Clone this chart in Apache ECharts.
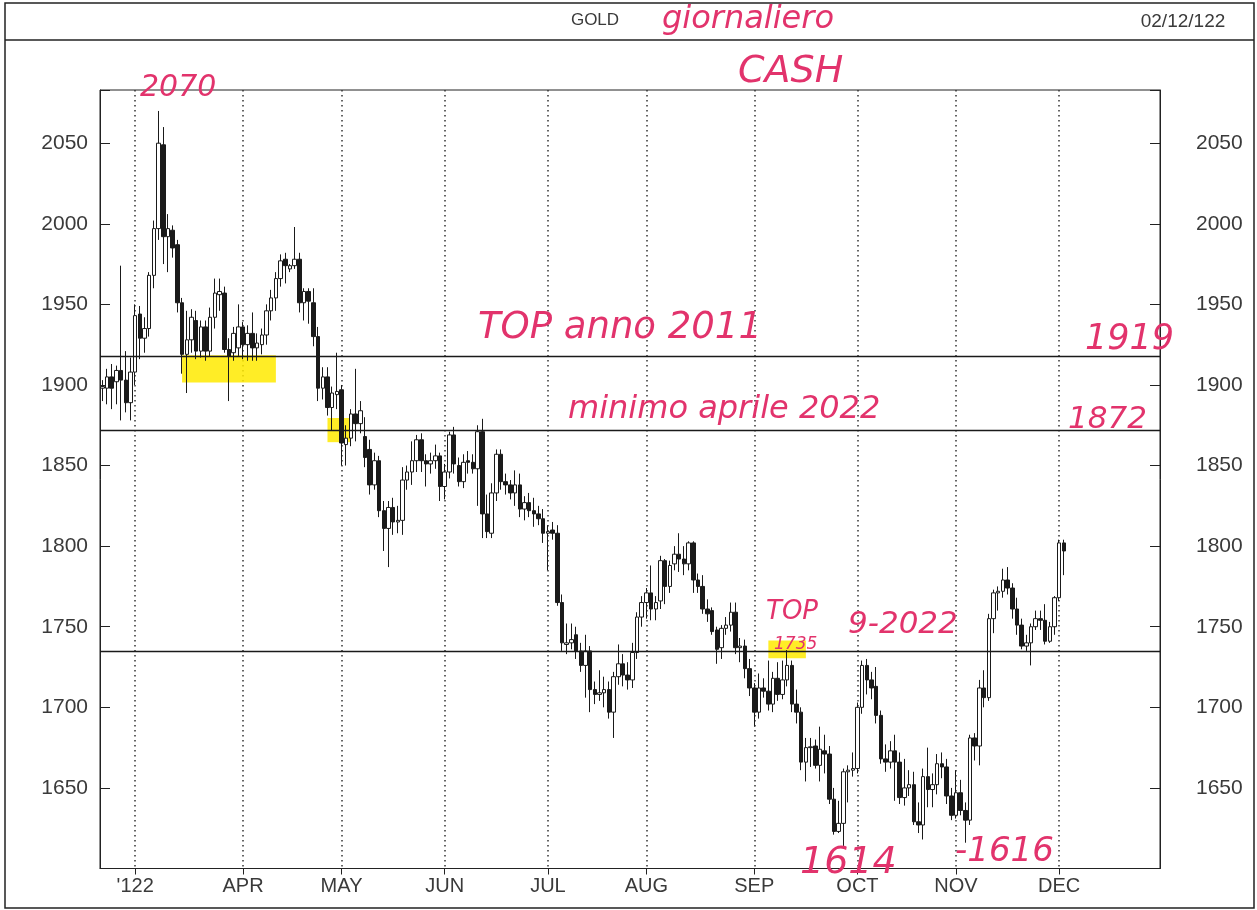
<!DOCTYPE html>
<html><head><meta charset="utf-8">
<script src="https://cdn.jsdelivr.net/npm/echarts@6/dist/echarts.min.js"></script>
<style>html,body{margin:0;padding:0;background:#fff}#c{width:1257px;height:910px}</style>
</head><body><div id="c"></div>
<script>
// OHLC candles, ECharts order: [open, close, low, high]
const feb = [[1898,1899,1890,1903],[1898,1905,1888,1910],[1905,1898,1885,1913],[1902,1909,1888,1912],[1909,1903,1878,1974],[1903,1889,1883,1921],[1889,1908,1878,1917]];
const mar = [[1908,1943,1900,1950],[1944,1929,1916,1949],[1929,1935,1920,1942],[1935,1968,1930,1970],[1968,1997,1960,2002],[1997,2050,1990,2070],[2049,1992,1975,2060],[1992,1997,1970,2006],[1996,1985,1979,1999],[1987,1951,1945,1990],[1951,1919,1907,1954],[1919,1928,1895,1946],[1928,1942,1920,1947],[1940,1921,1916,1946],[1921,1936,1917,1940],[1936,1921,1915,1940],[1921,1942,1918,1948],[1942,1957,1935,1966],[1956,1958,1946,1966],[1957,1922,1920,1961],[1922,1918,1890,1929],[1920,1932,1915,1936],[1923,1936,1918,1950]];
const apr = [[1936,1925,1916,1939],[1925,1932,1915,1937],[1932,1923,1915,1945],[1923,1926,1915,1932],[1925,1931,1919,1935],[1931,1946,1925,1950],[1946,1954,1940,1959],[1954,1966,1946,1970],[1966,1977,1961,1981],[1978,1974,1963,1982],[1972,1974,1970,1975],[1974,1978,1972,1998],[1978,1951,1945,1982],[1951,1958,1940,1960],[1958,1952,1938,1960],[1951,1930,1924,1960],[1930,1898,1890,1936],[1898,1905,1891,1911],[1905,1886,1881,1911],[1886,1895,1872,1899],[1894,1896,1885,1920]];
const may = [[1897,1864,1850,1900],[1863,1867,1850,1875],[1867,1882,1862,1885],[1882,1876,1865,1910],[1876,1884,1870,1890],[1868,1855,1849,1880],[1860,1838,1832,1866],[1838,1853,1835,1858],[1853,1822,1818,1856],[1822,1811,1797,1828],[1811,1824,1787,1828],[1824,1815,1807,1830],[1815,1816,1808,1825],[1816,1841,1807,1849],[1841,1846,1835,1850],[1846,1853,1838,1865],[1853,1866,1846,1869],[1866,1853,1846,1870],[1853,1851,1837,1857],[1851,1853,1845,1858],[1853,1856,1848,1863],[1856,1837,1828,1858]];
const jun = [[1837,1846,1829,1851],[1846,1869,1842,1871],[1869,1851,1845,1874],[1850,1840,1837,1855],[1840,1852,1836,1857],[1853,1852,1845,1859],[1852,1848,1845,1857],[1848,1871,1825,1875],[1871,1820,1805,1879],[1820,1809,1805,1832],[1808,1833,1805,1839],[1833,1857,1828,1860],[1857,1840,1835,1860],[1840,1838,1832,1845],[1838,1833,1829,1841],[1833,1838,1825,1847],[1838,1823,1818,1845],[1823,1827,1816,1831],[1827,1822,1818,1833],[1822,1820,1812,1830],[1820,1817,1813,1825],[1817,1808,1802,1823]];
const jul = [[1808,1809,1785,1813],[1810,1808,1804,1815],[1808,1765,1763,1813],[1765,1740,1735,1770],[1739,1740,1733,1752],[1740,1742,1736,1752],[1745,1735,1730,1750],[1735,1726,1722,1740],[1726,1735,1706,1745],[1735,1711,1697,1738],[1711,1708,1702,1716],[1708,1709,1704,1723],[1709,1711,1700,1719],[1711,1697,1693,1716],[1697,1719,1681,1722],[1719,1727,1714,1739],[1727,1720,1713,1733],[1720,1717,1711,1728],[1717,1734,1712,1740],[1734,1756,1730,1759],[1756,1765,1750,1769]];
const aug = [[1765,1771,1755,1774],[1771,1761,1754,1788],[1761,1765,1754,1769],[1766,1791,1761,1794],[1791,1775,1764,1792],[1775,1788,1771,1791],[1789,1795,1785,1800],[1795,1792,1784,1808],[1792,1789,1782,1800],[1789,1802,1785,1803],[1802,1779,1771,1803],[1779,1775,1771,1783],[1775,1761,1758,1782],[1761,1758,1753,1767],[1760,1747,1745,1762],[1748,1736,1727,1750],[1737,1749,1730,1751],[1749,1751,1745,1756],[1751,1759,1747,1765],[1759,1737,1733,1765],[1737,1738,1728,1743],[1738,1724,1718,1742],[1724,1712,1707,1730]];
const sep = [[1712,1697,1688,1715],[1697,1712,1693,1721],[1712,1710,1706,1718],[1710,1702,1698,1729],[1702,1718,1697,1722],[1718,1708,1704,1728],[1708,1717,1705,1729],[1717,1726,1713,1735.5],[1726,1702,1697,1729],[1702,1697,1690,1711],[1697,1666,1661,1700],[1666,1675,1654,1681],[1675,1675.5,1663,1681],[1676,1664,1662,1680],[1664,1674,1654,1688],[1673,1671,1659,1683],[1671,1643,1640,1676],[1643,1623,1621,1650],[1623,1628,1622,1642],[1628,1660,1614,1662],[1660,1661,1641,1664],[1661,1662,1657,1672]];
const oct = [[1662,1700,1659,1703],[1700,1726,1696,1729],[1726,1717,1708,1730],[1717,1712,1705,1722],[1713,1695,1690,1725],[1695,1668,1665,1698],[1668,1666,1660,1677],[1666,1673,1662,1679],[1673,1666,1642,1683],[1666,1644,1640,1672],[1644,1650,1639,1668],[1650,1652,1645,1661],[1652,1629,1627,1660],[1629,1627,1622,1641],[1627,1657,1618,1662],[1657,1649,1638,1675],[1649,1652,1638,1659],[1652,1665,1646,1671],[1665,1663,1656,1672],[1663,1645,1640,1668],[1645,1633,1630,1650]];
const nov = [[1633,1647,1631,1661],[1647,1636,1633,1655],[1636,1630,1616,1641],[1630,1681,1627,1683],[1681,1676,1667,1684],[1676,1712,1664,1717],[1712,1706,1700,1723],[1706,1755,1704,1758],[1755,1771,1746,1773],[1771,1772,1760,1775],[1772,1779,1768,1786],[1779,1774,1770,1787],[1774,1761,1755,1777],[1761,1751,1745,1768],[1751,1738,1736,1755],[1738,1740,1735,1745],[1740,1750,1726,1752],[1750,1755,1748,1760],[1755,1754,1748,1760],[1754,1741,1739,1764],[1741,1750,1740,1753],[1750,1768,1745,1769]];
const dec = [[1768,1802,1766,1804],[1802,1797,1782,1804]];

// axis settings (tick labels)
const firstDay = '2022-02-18';
const lastAxisDay = '2022-12-30';
const monthStarts = ['2022-03-01','2022-04-01','2022-05-02','2022-06-01','2022-07-01','2022-08-01','2022-09-01','2022-10-03','2022-11-01','2022-12-01'];
const monthLabels = ["'122",'APR','MAY','JUN','JUL','AUG','SEP','OCT','NOV','DEC'];
const yMin = 1600, yMax = 2083, yStep = 50, yLabelLow = 1650, yLabelHigh = 2050;

// drawn reference levels and highlighter boxes [fromDay, toDay, lowPrice, highPrice]
const levels = [1918, 1872, 1735];
const highlights = [['2022-03-15','2022-04-12',1901.5,1918.5],['2022-04-27','2022-05-04',1864.5,1879.5],['2022-09-06','2022-09-16',1730.5,1741.5]];

// trading-day categories (weekdays)
function weekdays(a, b) {
  const out = [];
  const d = new Date(a + 'T00:00:00Z'), e = new Date(b + 'T00:00:00Z');
  while (d <= e) {
    const w = d.getUTCDay();
    if (w !== 0 && w !== 6) out.push(d.toISOString().slice(0, 10));
    d.setUTCDate(d.getUTCDate() + 1);
  }
  return out;
}
const categories = weekdays(firstDay, lastAxisDay);
const candles = [].concat(feb, mar, apr, may, jun, jul, aug, sep, oct, nov, dec);
const monthMap = {};
monthStarts.forEach((d, i) => monthMap[d] = monthLabels[i]);
const isMonth = (idx, val) => monthMap[val] !== undefined;

const axisFont = '"Liberation Sans", Arial, sans-serif';
const inkColor = '#3a3a3a';
const pen = '#e2336c';
const hand = 'DejaVu Sans, sans-serif';

function note(text, x, y, size, extra) {
  return Object.assign({
    type: 'text', x: x, y: y, z: 100, silent: true,
    style: { text: text, fill: pen, font: 'italic ' + size + 'px ' + hand, textAlign: 'left', textVerticalAlign: 'middle' }
  }, extra || {});
}

const chart = echarts.init(document.getElementById('c'), null, { renderer: 'canvas' });
const yAxisBase = {
  type: 'value', min: yMin, max: yMax, interval: yStep, scale: true,
  axisLine: { show: true, lineStyle: { color: '#222', width: 1 } },
  axisTick: { show: true, inside: true, length: 10, lineStyle: { color: '#222' } },
  splitLine: { show: false },
  axisLabel: {
    color: inkColor, fontSize: 21, fontFamily: axisFont,
    formatter: v => (v % yStep === 0 && v >= yLabelLow && v <= yLabelHigh) ? String(v) : ''
  }
};
chart.setOption({
  animation: false,
  backgroundColor: '#fff',
  grid: { left: 100, right: 97, top: 90, bottom: 41.5, show: true, borderColor: '#222', borderWidth: 1 },
  xAxis: {
    type: 'category', data: categories, boundaryGap: true,
    axisLine: { show: true, lineStyle: { color: '#222', width: 1 } },
    axisTick: { show: true, interval: isMonth, alignWithLabel: true, length: 6, lineStyle: { color: '#222' } },
    axisLabel: { interval: isMonth, formatter: v => monthMap[v] || '', color: inkColor, fontSize: 20, fontFamily: axisFont, margin: 8 },
    splitLine: { show: true, interval: isMonth, alignWithLabel: true, lineStyle: { color: '#333', width: 1.5, type: [1.5, 3.5] } }
  },
  yAxis: [
    Object.assign({}, yAxisBase, { position: 'left', axisLabel: Object.assign({}, yAxisBase.axisLabel, { margin: 12 }) }),
    Object.assign({}, yAxisBase, { position: 'right', axisLabel: Object.assign({}, yAxisBase.axisLabel, { margin: 36 }) })
  ],
  series: [{
    type: 'candlestick', name: 'GOLD', data: candles, barWidth: 4,
    itemStyle: { color: '#ffffff', color0: '#1a1a1a', borderColor: '#1a1a1a', borderColor0: '#1a1a1a', borderWidth: 1 },
    markLine: {
      silent: true, symbol: ['none', 'none'], label: { show: false },
      lineStyle: { color: '#1a1a1a', width: 1.3, type: 'solid' },
      data: levels.map(v => ({ yAxis: v }))
    },
    markArea: {
      silent: true,
      itemStyle: { color: 'rgba(255,234,0,0.85)' },
      data: highlights.map(h => [{ xAxis: h[0], yAxis: h[2] }, { xAxis: h[1], yAxis: h[3] }])
    }
  }],
  graphic: [
    { type: 'rect', silent: true, z: 50, shape: { x: 5, y: 3, width: 1249, height: 905 }, style: { fill: 'none', stroke: '#222', lineWidth: 1.5 } },
    { type: 'line', silent: true, z: 50, shape: { x1: 5, y1: 40, x2: 1254, y2: 40 }, style: { stroke: '#222', lineWidth: 1.3 } },
    { type: 'text', silent: true, z: 50, x: 595, y: 20, style: { text: 'GOLD', fill: inkColor, font: '17px ' + axisFont, textAlign: 'center', textVerticalAlign: 'middle' } },
    { type: 'text', silent: true, z: 50, x: 1183, y: 22, style: { text: '02/12/122', fill: inkColor, font: '19px ' + axisFont, textAlign: 'center', textVerticalAlign: 'middle' } },
    note('giornaliero', 662, 20, 32),
    note('CASH', 738, 72, 38),
    note('2070', 140, 88, 30),
    note('TOP anno 2011', 478, 328, 37),
    note('1919', 1085, 340, 35),
    note('minimo aprile 2022', 568, 410, 32),
    note('1872', 1068, 420, 31),
    note('TOP', 766, 612, 26),
    note('9-2022', 848, 625, 31),
    note('1735', 774, 645, 17),
    note('1614', 800, 863, 38),
    note('-1616', 955, 852, 34)
  ]
});
</script></body></html>
